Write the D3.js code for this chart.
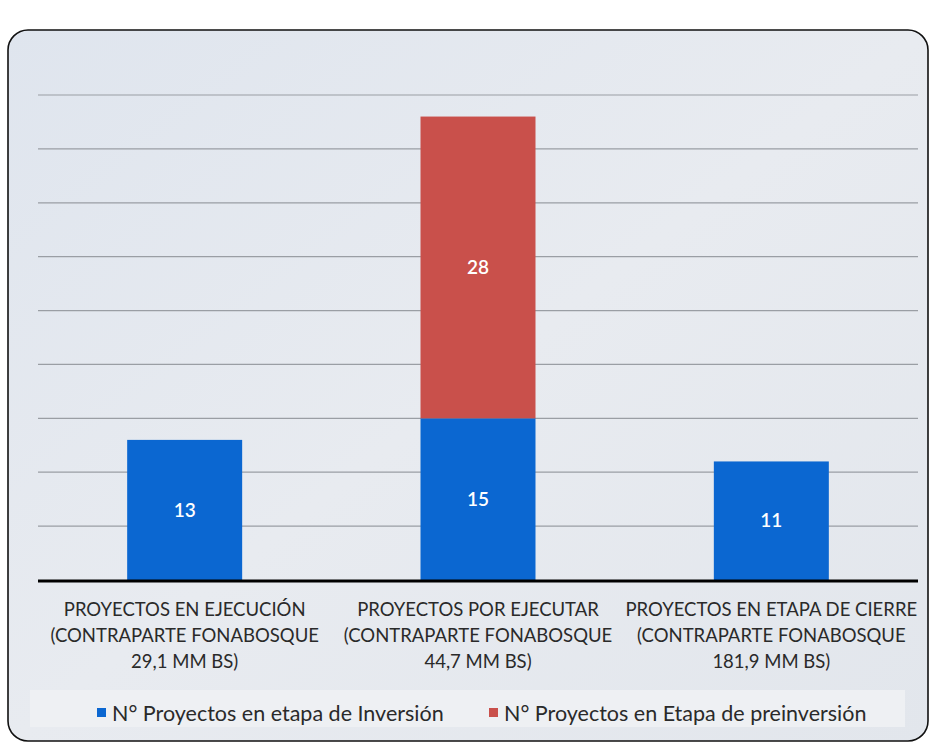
<!DOCTYPE html>
<html><head><meta charset="utf-8">
<script src="https://cdn.jsdelivr.net/npm/d3@7"></script>
<style>body{margin:0;background:#fff}svg{display:block}</style>
</head><body>
<svg id="c" width="934" height="744"></svg>
<script>
const categories = [
  ["PROYECTOS EN EJECUCIÓN","(CONTRAPARTE FONABOSQUE","29,1 MM BS)"],
  ["PROYECTOS POR EJECUTAR","(CONTRAPARTE FONABOSQUE","44,7 MM BS)"],
  ["PROYECTOS EN ETAPA DE CIERRE","(CONTRAPARTE FONABOSQUE","181,9 MM BS)"]
];
const seriesNames = ["N° Proyectos en etapa de Inversión","N° Proyectos en Etapa de preinversión"];
const inversion = [13, 15, 11];
const preinversion = [0, 28, 0];
const gridTicks = [5,10,15,20,25,30,35,40,45];
const colors = ["#0b67d1", "#c9504b"];

const svg = d3.select("#c");
const defs = svg.append("defs");
const g1 = defs.append("linearGradient").attr("id","bg").attr("x1",0).attr("y1",0).attr("x2",1).attr("y2",1);
g1.append("stop").attr("offset","0%").attr("stop-color","#dfe5ee");
g1.append("stop").attr("offset","50%").attr("stop-color","#e8ebf0");
g1.append("stop").attr("offset","100%").attr("stop-color","#e2e6ec");

svg.append("rect").attr("x",8).attr("y",30).attr("width",920).attr("height",711)
  .attr("rx",20).attr("fill","url(#bg)").attr("stroke","#111").attr("stroke-width",1.6);

const left = 38, right = 918, base = 580;
const x = d3.scaleBand().domain(d3.range(categories.length)).range([left,right]).padding(0);
const y = d3.scaleLinear().domain([0,45]).range([base,95]);
const bw = x.bandwidth()*0.392;

svg.append("g").selectAll("line").data(gridTicks).join("line")
  .attr("x1",left).attr("x2",right).attr("y1",d=>y(d)).attr("y2",d=>y(d))
  .attr("stroke","#9a9ea4").attr("stroke-width",1.2);

const stackData = categories.map((c,i)=>({i, inv:inversion[i], pre:preinversion[i]}));
const stacks = d3.stack().keys(["inv","pre"])(stackData);

stacks.forEach((s,k)=>{
  const gg = svg.append("g");
  gg.selectAll("rect").data(s.filter(d=>d[1]-d[0]>0)).join("rect")
    .attr("x",d=>x(d.data.i)+x.bandwidth()/2-bw/2).attr("width",bw)
    .attr("y",d=>y(d[1])).attr("height",d=>y(d[0])-y(d[1]))
    .attr("fill",colors[k]);
  gg.selectAll("text").data(s.filter(d=>d[1]-d[0]>0)).join("text")
    .attr("x",d=>x(d.data.i)+x.bandwidth()/2)
    .attr("y",d=>(y(d[0])+y(d[1]))/2)
    .attr("dy","0.35em").attr("text-anchor","middle")
    .attr("fill","#fff").attr("font-family","Lato, 'Open Sans', sans-serif")
    .attr("font-size",19).attr("font-weight",600)
    .text(d=>d[1]-d[0]);
});

svg.append("line").attr("x1",left).attr("x2",right).attr("y1",base+1).attr("y2",base+1)
  .attr("stroke","#000").attr("stroke-width",3);

const lab = svg.append("g").attr("font-family","Lato, 'Open Sans', sans-serif").attr("font-size",18.5);
categories.forEach((c,i)=>{
  c.forEach((line,j)=>{
    lab.append("text").attr("x",x(i)+x.bandwidth()/2).attr("y",616+j*26)
      .attr("text-anchor","middle").attr("fill","#2a2a2a").text(line);
  });
});

svg.append("rect").attr("x",30).attr("y",690).attr("width",875).attr("height",37).attr("fill","#eef0f3");
const legX = [97, 489];
seriesNames.forEach((n,k)=>{
  svg.append("rect").attr("x",legX[k]).attr("y",708).attr("width",9).attr("height",9).attr("fill",colors[k]);
  svg.append("text").attr("x",legX[k]+15).attr("y",721).attr("font-family","Lato, 'Open Sans', sans-serif")
    .attr("font-size",21.5).attr("fill","#2a2a2a").text(n);
});
</script>
</body></html>
